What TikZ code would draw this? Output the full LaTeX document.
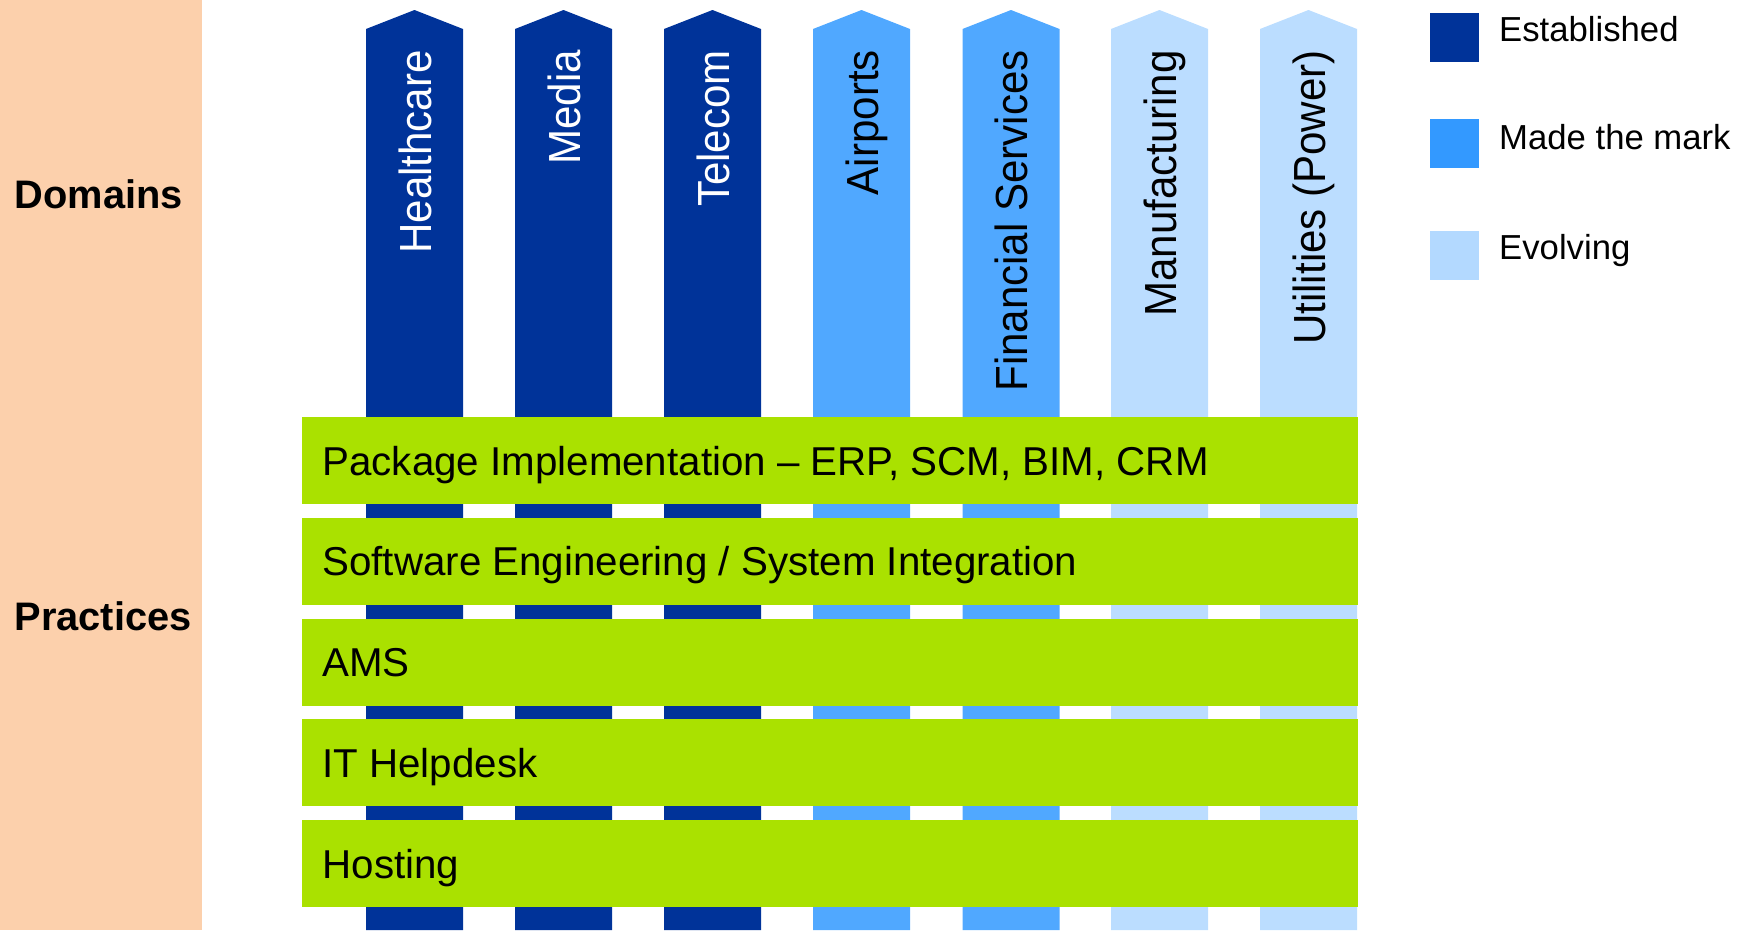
\documentclass[tikz,border=0pt]{standalone}
\usepackage{fontspec}
\setmainfont{Liberation Sans}
\newfontfamily\narrowsans[FakeStretch=0.935]{Liberation Sans}
\definecolor{peach}{HTML}{FCD0AC}
\definecolor{estab}{HTML}{003399}
\definecolor{markarrow}{HTML}{50A8FF}
\definecolor{marklegend}{HTML}{3399FF}
\definecolor{evolarrow}{HTML}{BBDDFF}
\definecolor{evollegend}{HTML}{B3D9FF}
\definecolor{practice}{HTML}{AAE100}
\begin{document}
\begin{tikzpicture}[x=1pt,y=-1pt,
  sidelabel/.style={anchor=base west, inner sep=0, font=\bfseries\fontsize{39.8}{47}\selectfont},
  domlabel/.style={rotate=90, anchor=base east, inner sep=0, font=\narrowsans\fontsize{45}{54}\selectfont},
  barbox/.style={anchor=north west, fill=practice, draw=none, minimum width=1056pt, minimum height=87pt, inner sep=0},
  bartext/.style={anchor=base west, inner sep=0, font=\fontsize{40.3}{48}\selectfont},
  legbox/.style={anchor=north west, draw=none, minimum width=49pt, minimum height=48.5pt, inner sep=0},
  legtext/.style={anchor=base west, inner sep=0, font=\fontsize{34.7}{42}\selectfont}]
\useasboundingbox (0,0) rectangle (1751,930);
% left band
\fill[peach] (0,0) rectangle (202,930);
\node[sidelabel] (domains) at (14.5,208.3) {Domains};
\node[sidelabel] (practices) at (14.5,630.4) {Practices};
% domain arrows
\foreach \xl/\col/\tc/\lab/\nm in {
  366/estab/white/Healthcare/hc,
  515/estab/white/Media/md,
  664/estab/white/Telecom/tc,
  813/markarrow/black/Airports/ap,
  962.5/markarrow/black/Financial Services/fs,
  1111/evolarrow/black/Manufacturing/mf,
  1260/evolarrow/black/Utilities (Power)/ut}{
  \fill[\col] (\xl,930) -- (\xl,29) -- ({\xl+48.5},10) -- ({\xl+97},29) -- ({\xl+97},930) -- cycle;
  \node[domlabel, text=\tc] (\nm) at ({\xl+48.5+16.5},50) {\lab};
}
% practice bars
\node[barbox] (b1) at (302,417) {};
\node[barbox] (b2) at (302,517.75) {};
\node[barbox] (b3) at (302,618.5) {};
\node[barbox] (b4) at (302,719.25) {};
\node[barbox] (b5) at (302,820) {};
\node[bartext] (t1) at ([xshift=20.3pt,yshift=-14.4pt]b1.west) {Package Implementation – ERP, SCM, BIM, CRM};
\node[bartext] (t2) at ([xshift=20.3pt,yshift=-14.4pt]b2.west) {Software Engineering / System Integration};
\node[bartext] (t3) at ([xshift=20.3pt,yshift=-14.4pt]b3.west) {AMS};
\node[bartext] (t4) at ([xshift=20.3pt,yshift=-14.4pt]b4.west) {IT Helpdesk};
\node[bartext] (t5) at ([xshift=20.3pt,yshift=-14.4pt]b5.west) {Hosting};
% legend
\node[legbox, fill=estab] (l1) at (1430,13) {};
\node[legbox, fill=marklegend] (l2) at (1430,119) {};
\node[legbox, fill=evollegend] (l3) at (1430,231) {};
\node[legtext] (lt1) at (1499,41.7) {Established};
\node[legtext] (lt2) at (1499,149) {Made the mark};
\node[legtext] (lt3) at (1499,259) {Evolving};
\end{tikzpicture}
\end{document}
